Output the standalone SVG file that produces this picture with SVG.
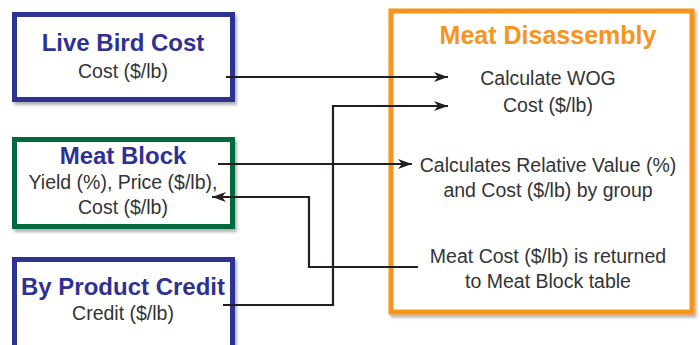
<svg xmlns="http://www.w3.org/2000/svg" width="700" height="345" viewBox="0 0 700 345">
<style>
.box{fill:#fff;stroke-width:5;filter:url(#sh)}
.blue{stroke:#2e3192}
.green{stroke:#00693c}
.orange{stroke:#f7941d}
.title{font-family:"Liberation Sans",Arial,sans-serif;font-weight:bold;font-size:24px;fill:#2e3192;text-anchor:middle}
.t{font-family:"Liberation Sans",Arial,sans-serif;font-size:19.5px;fill:#333;text-anchor:middle}
.conn{fill:none;stroke:#231f20;stroke-width:2.2}
</style>
<defs>
<filter id="sh" x="-10%" y="-10%" width="130%" height="130%">
<feDropShadow dx="2" dy="3" stdDeviation="1.5" flood-color="#000" flood-opacity="0.3"/>
</filter>
<marker id="ah" markerWidth="14" markerHeight="10" viewBox="0 0 14 10" refX="14" refY="5" orient="auto" markerUnits="userSpaceOnUse">
<path d="M0,0 L14,5 L0,10 L4,5 Z" fill="#231f20"/>
</marker>
</defs>
<rect width="700" height="345" fill="#fff"/>
<g id="live-bird-cost">
<rect class="box blue" x="14.5" y="14.5" width="218" height="85"/>
<text class="title" x="123" y="51">Live Bird Cost</text>
<text class="t" x="123" y="78">Cost ($/lb)</text>
</g>
<g id="meat-block">
<rect class="box green" x="14.5" y="139.5" width="218" height="87"/>
<text class="title" x="123" y="164">Meat Block</text>
<text class="t" x="123" y="189">Yield (%), Price ($/lb),</text>
<text class="t" x="123" y="214">Cost ($/lb)</text>
</g>
<g id="by-product-credit">
<rect class="box blue" x="14.5" y="259.5" width="218" height="95"/>
<text class="title" x="123" y="295">By Product Credit</text>
<text class="t" x="123" y="320">Credit ($/lb)</text>
</g>
<g id="meat-disassembly">
<rect class="box orange" x="391" y="11" width="301" height="301"/>
<text class="title" x="548" y="44" style="fill:#f7941d;font-size:25px">Meat Disassembly</text>
<text class="t" x="548" y="85">Calculate WOG</text>
<text class="t" x="548" y="112">Cost ($/lb)</text>
<text class="t" x="548" y="172">Calculates Relative Value (%)</text>
<text class="t" x="548" y="197">and Cost ($/lb) by group</text>
<text class="t" x="548" y="263">Meat Cost ($/lb) is returned</text>
<text class="t" x="548" y="288">to Meat Block table</text>
</g>
<g id="connectors">
<path class="conn" d="M226,77 H448" marker-end="url(#ah)"/>
<path class="conn" d="M223,305 H333 V106 H448" marker-end="url(#ah)"/>
<path class="conn" d="M218,164 H412" marker-end="url(#ah)"/>
<path class="conn" d="M418,267 H309 V197 H212" marker-end="url(#ah)"/>
</g>
</svg>
